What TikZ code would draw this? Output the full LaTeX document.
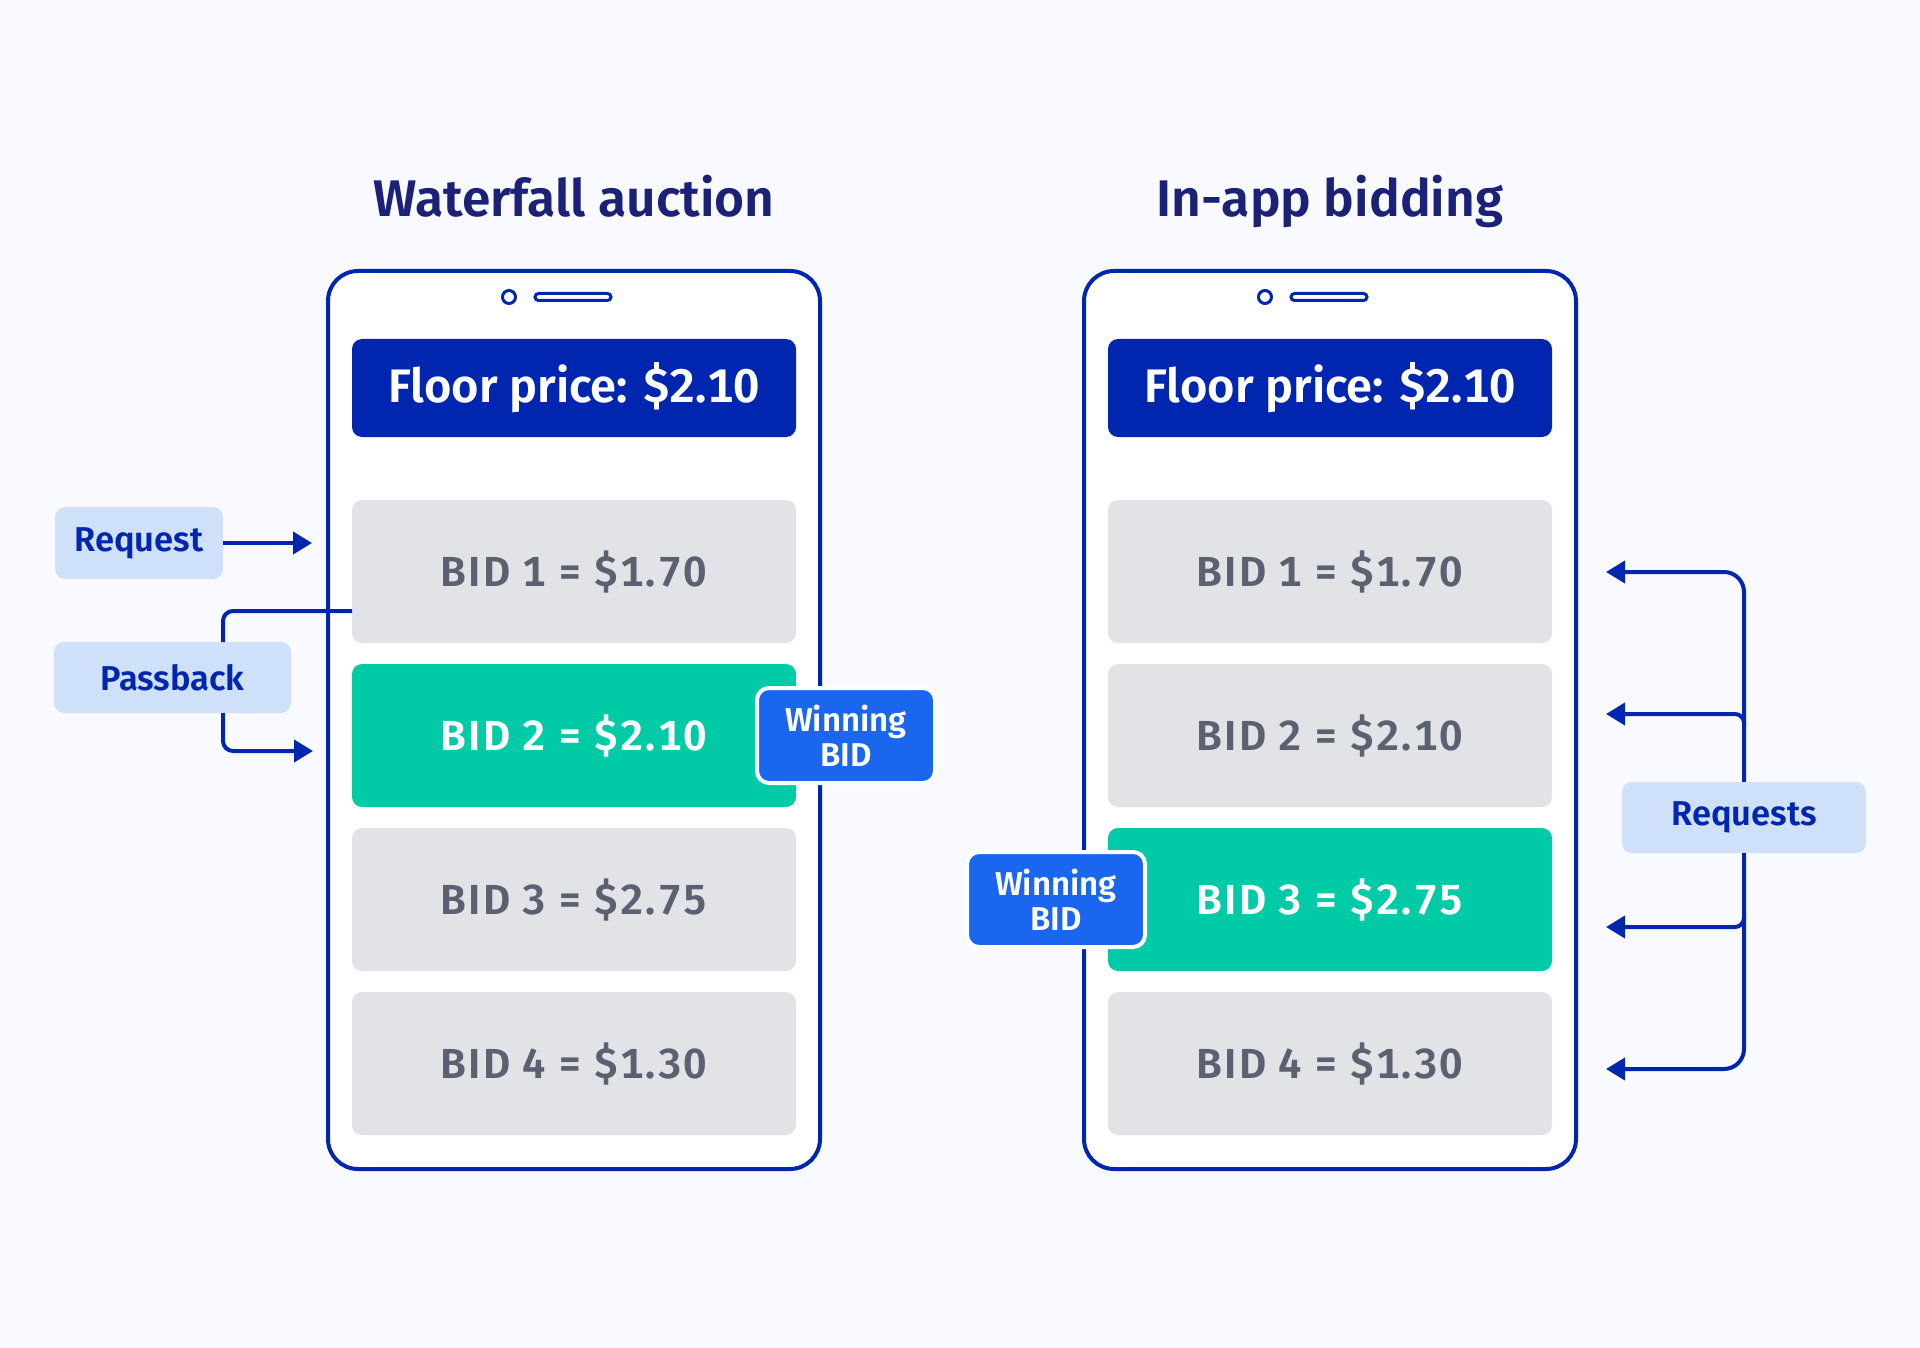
\documentclass[tikz,border=0pt]{standalone}
\usepackage{fontspec}
\setmainfont{Fira Sans}[BoldFont={Fira Sans SemiBold}]
\usepackage{tikz}
\usetikzlibrary{arrows.meta,positioning}

\definecolor{navy}{HTML}{0026B0}
\definecolor{titlenavy}{HTML}{1C2178}
\definecolor{paper}{HTML}{F8FAFF}
\definecolor{rowgrey}{HTML}{E2E3E7}
\definecolor{rowink}{HTML}{5B6170}
\definecolor{rowgreen}{HTML}{00CBA6}
\definecolor{tagfill}{HTML}{CFE0FA}
\definecolor{winblue}{HTML}{1A66EE}

\tikzset{
  phone/.style={draw=navy,line width=4pt,fill=white,rounded corners=30pt},
  heading/.style={text=titlenavy,anchor=base,
    font=\fontsize{51.5}{58}\selectfont\bfseries},
  floorbox/.style={fill=navy,rounded corners=10pt,minimum width=444pt,
    minimum height=98pt,text=white,
    font=\fontsize{47}{54}\selectfont\bfseries\addfontfeature{Numbers=Monospaced}},
  bidrow/.style={rounded corners=10pt,minimum width=444pt,minimum height=143pt,
    font=\fontsize{42}{48}\selectfont\bfseries\addfontfeature{LetterSpace=5,Numbers=Monospaced}},
  tag/.style={fill=tagfill,rounded corners=10pt,text=navy,
    font=\fontsize{34.5}{40}\selectfont\bfseries},
  winbox/.style={fill=winblue,draw=white,line width=4pt,rounded corners=12pt,
    minimum width=178pt,minimum height=95pt,text=white,align=center,
    font=\fontsize{33}{35}\selectfont\bfseries},
  wire/.style={draw=navy,line width=4pt},
  link/.style={wire,-{Triangle[length=19pt,width=22pt]}}
}

\begin{document}
\begin{tikzpicture}[x=1pt,y=-1pt]
  % Background
  \fill[paper] (0,0) rectangle (1920,1348);
  \useasboundingbox (0,0) rectangle (1920,1348);
  %
  % Titles
  \node[heading] (ttlL) at (574,217) {Waterfall auction};
  \node[heading] (ttlR) at (1330,217) {In-app bidding};
  %
  % Phones with their rows
  \foreach \px/\ph/\win in {574/L/2,1330/R/3}{
    \draw[phone] (\px-246,271) rectangle (\px+246,1169);
    \draw[navy,line width=3pt] (\px-65,297) circle [radius=6.5];
    \draw[navy,line width=3pt,rounded corners=3.5pt]
      (\px-39,293.5) rectangle (\px+37,300.5);
    \node[floorbox] (\ph floor) at (\px,388) {Floor price: \$2.10};
    \foreach \n/\price/\cy in {1/1.70/571.5,2/2.10/735.5,3/2.75/899.5,4/1.30/1063.5}{
      \ifnum\n=\win
        \def\rowfill{rowgreen}\def\rowtext{white}
      \else
        \def\rowfill{rowgrey}\def\rowtext{rowink}
      \fi
      \node[bidrow,fill=\rowfill,text=\rowtext] (\ph bid\n) at (\px,\cy)
        {BID \n{} = \$\price};
    }
  }
  %
  % Winning bids
  \node[winbox] (Lwin) at (846,735.5) {Winning\\BID};
  \node[winbox] (Rwin) at (1056,899.5) {Winning\\BID};
  %
  % Waterfall side
  \node[tag,minimum width=168pt,minimum height=72pt] (req) at (139,543) {Request};
  \node[tag,minimum width=237pt,minimum height=71pt] (pass) at (172.5,677.5) {Passback};
  \coordinate (reqend) at (312,543);
  \coordinate (backout) at (352,611);
  \coordinate (backin) at (313,751);
  \draw[link] (req.east) -- (reqend);
  \draw[wire,rounded corners=10pt] (backout) -- (223,611) -- (223,642);
  \draw[link,rounded corners=10pt] (223,713) -- (backin -| 223,0) -- (backin);
  %
  % Bidding side
  \node[tag,minimum width=244pt,minimum height=71pt] (reqs) at (1744,817.5) {Requests};
  \foreach \k/\ay in {1/572,2/714,3/927,4/1069}{
    \coordinate (rin\k) at (1606,\ay);
  }
  \draw[link,rounded corners=20pt] (reqs.north) -- (rin1 -| reqs.north) -- (rin1);
  \draw[link,rounded corners=9pt] (1744,726) -- (rin2 -| reqs.north) -- (rin2);
  \draw[link,rounded corners=9pt] (1744,915) -- (rin3 -| reqs.north) -- (rin3);
  \draw[link,rounded corners=20pt] (reqs.south) -- (rin4 -| reqs.south) -- (rin4);
  %
\end{tikzpicture}
\end{document}
